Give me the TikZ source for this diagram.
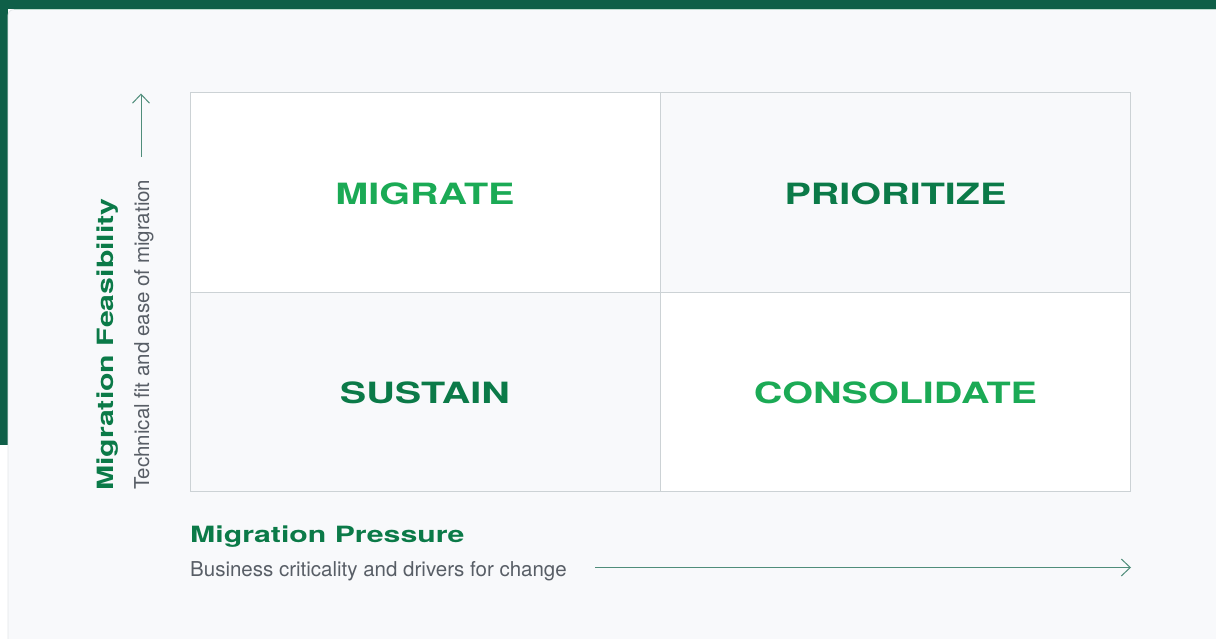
\documentclass[tikz,border=0pt]{standalone}
\usepackage{fontspec}
\setmainfont{TeX Gyre Heros}
\newfontfamily\widefont[FakeStretch=1.35]{TeX Gyre Heros}
\usetikzlibrary{arrows.meta}
\definecolor{band}{HTML}{0F5F48}
\definecolor{panel}{HTML}{F8F9FB}
\definecolor{panelline}{HTML}{E3E7E9}
\definecolor{mint}{HTML}{BFDCCF}
\definecolor{gridc}{HTML}{CCD2D5}
\definecolor{bright}{HTML}{1BAA55}
\definecolor{deep}{HTML}{0B7A48}
\definecolor{greytext}{HTML}{585E66}
\definecolor{axisc}{HTML}{4F8D7A}
\tikzset{
  cell/.style={draw=gridc, line width=1pt, minimum width=470pt, minimum height=199pt,
    inner sep=0pt},
  quadlabel/.style={inner sep=0pt, font=\widefont\bfseries\fontsize{29.3}{34}\selectfont},
  axistitle/.style={inner sep=0pt, text=deep, font=\widefont\bfseries\fontsize{22.4}{26}\selectfont},
  axissub/.style={inner sep=0pt, text=greytext, font=\fontsize{20.5}{24}\selectfont},
  axisarrow/.style={draw=axisc, line width=1pt, -{Straight Barb[length=9pt,width=17pt,line width=1pt]}}
}
\begin{document}
\begin{tikzpicture}[x=1pt,y=1pt]
  \useasboundingbox (0,0) rectangle (1216,-639);
  % frame: white page, dark green band and left strip
  \fill[white] (0,0) rectangle (1216,-639);
  \fill[band] (0,0) rectangle (1216,-9);
  \fill[band] (0,0) rectangle (8,-445);
  % light panel
  \filldraw[fill=panel, draw=panelline, line width=0.8pt, rounded corners=6pt]
    (8,-9.5) -- (1230,-9.5) -- (1230,-650) -- (8,-650) -- cycle;
  \draw[mint, line width=0.8pt] (14,-9.6) -- (1216,-9.6);

  % quadrants
  \node[cell, fill=white] (mig) at (425,-192.5) {};
  \node[cell, fill=panel] (pri) at (895.5,-192.5) {};
  \node[cell, fill=panel] (sus) at (425,-391.5) {};
  \node[cell, fill=white] (con) at (895.5,-391.5) {};
  \node[quadlabel, text=bright, yshift=-1pt] (migt) at (mig) {MIGRATE};
  \node[quadlabel, text=deep, yshift=-1pt] (prit) at (pri) {PRIORITIZE};
  \node[quadlabel, text=deep, yshift=-1pt] (sust) at (sus) {SUSTAIN};
  \node[quadlabel, text=bright, yshift=-1pt] (cont) at (con) {CONSOLIDATE};

  % vertical axis
  \node[axistitle, rotate=90, anchor=base west] (feas) at (113,-491) {Migration Feasibility};
  \node[axissub, rotate=90, anchor=base west] (feassub) at (149,-490) {Technical fit and ease of migration};
  \coordinate (vs) at (141,-157);
  \coordinate (ve) at (141,-93.5);
  \draw[axisarrow] (vs) -- (ve);

  % horizontal axis
  \node[axistitle, anchor=base west] (press) at (190,-542.3) {Migration Pressure};
  \node[axissub, anchor=base west] (presssub) at (190,-576.7) {Business criticality and drivers for change};
  \coordinate (hs) at (595,-567.5);
  \coordinate (he) at (1131,-567.5);
  \draw[axisarrow] (hs) -- (he);
\end{tikzpicture}
\end{document}
